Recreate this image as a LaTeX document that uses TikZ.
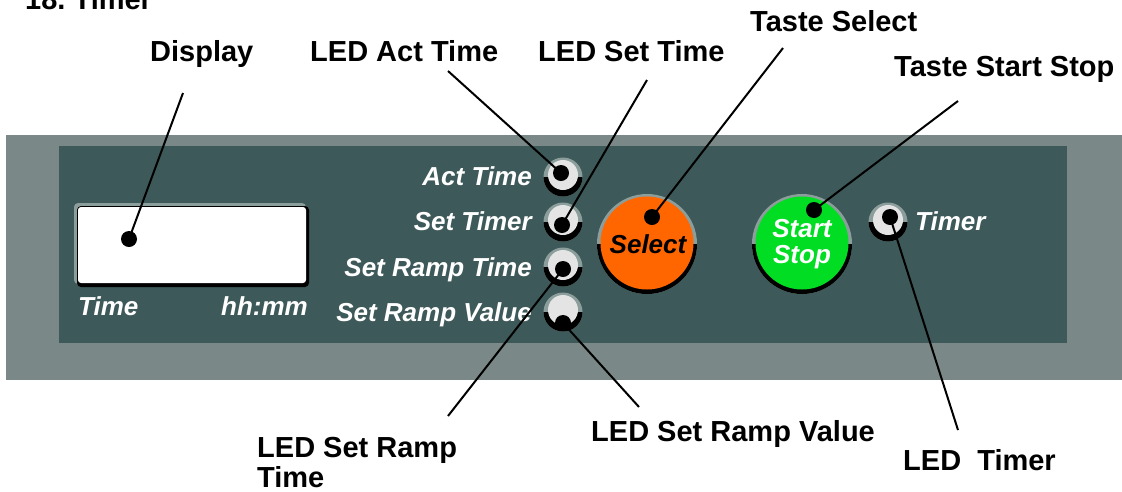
\documentclass[tikz,border=0pt]{standalone}
\usepackage{fontspec}
\setmainfont{Liberation Sans}
\frenchspacing
\definecolor{outerpanel}{RGB}{122,137,135}
\definecolor{innerpanel}{RGB}{62,89,89}
\definecolor{bevelgray}{RGB}{140,158,156}
\definecolor{ledlight}{RGB}{228,228,228}
\definecolor{btnorange}{RGB}{255,102,0}
\definecolor{btngreen}{RGB}{0,221,34}
\begin{document}
\begin{tikzpicture}[x=1pt,y=-1pt,
  callout/.style={font=\fontsize{29}{30}\selectfont\bfseries, inner sep=0pt, anchor=base west},
  panellabel/.style={font=\fontsize{26}{26}\selectfont\bfseries\itshape, text=white, inner sep=0pt},
  dotmark/.style={circle, fill=black, inner sep=0pt, minimum size=16pt},
  lead/.style={line width=2pt, black},
  pics/ledlamp/.style={code={
    \fill[bevelgray] (0,0) circle (19.5);
    \fill[black] (19.5,0) arc (0:180:19.5) -- cycle;
    \fill[ledlight] (0,-2) circle (15);
  }},
  pics/pushbutton/.style={code={
    \fill[bevelgray] (0,0) circle (50);
    \fill[black] (50,0) arc (0:180:50) -- cycle;
    \fill[#1] (0,-1) circle (46.5);
  }}]
\useasboundingbox (0,0) rectangle (1122,491);
\clip (0,0) rectangle (1122,491);
% panels
\fill[outerpanel] (6,135) rectangle (1122,380);
\fill[innerpanel] (59,146) rectangle (1067,343);
% display
\fill[bevelgray, rounded corners=4pt] (74,203) rectangle (306,284);
\fill[black, rounded corners=4pt] (77,206) rectangle (309,287);
\fill[white, rounded corners=3pt] (78,207) rectangle (306,283);
% LEDs
\pic at (563,177) {ledlamp};
\pic at (563,222) {ledlamp};
\pic at (563,267) {ledlamp};
\pic at (563,312) {ledlamp};
\pic at (888,222) {ledlamp};
% buttons
\pic at (647,244) {pushbutton=btnorange};
\pic at (802,244) {pushbutton=btngreen};
% panel texts
\node[panellabel, anchor=base east] (tAct) at (532,185) {Act Time};
\node[panellabel, anchor=base east] (tSetTimer) at (532,230) {Set Timer};
\node[panellabel, anchor=base east] (tRampTime) at (532,276) {Set Ramp Time};
\node[panellabel, anchor=base east] (tRampValue) at (532,321) {Set Ramp Value};
\node[panellabel, anchor=base west] (tTimer) at (915,230) {Timer};
\node[panellabel, anchor=base west] (tTime) at (78,315) {Time};
\node[panellabel, anchor=base east] (tHhmm) at (308,315) {hh:mm};
\node[panellabel, text=black, anchor=base] (tSelect) at (648,253) {Select};
\node[panellabel, align=center] (tStartStop) at (802,244) {Start\\Stop};
% callout labels
\node[callout] (lTitle) at (25,9) {18. Timer};
\node[callout] (lDisplay) at (150,61) {Display};
\node[callout] (lAct) at (310,61) {LED Act Time};
\node[callout] (lSetTime) at (538,61) {LED Set Time};
\node[callout] (lSelect) at (750,31) {Taste Select};
\node[callout] (lStart) at (894,76) {Taste Start Stop};
\node[callout, anchor=north west, align=left] (lRampTime) at (257,437) {LED Set Ramp\\Time};
\node[callout] (lRampValue) at (591,441) {LED Set Ramp Value};
\node[callout] (lTimer) at (903,470) {LED\ \ Timer};
% dots
\node[dotmark] (dDisplay) at (129,239) {};
\node[dotmark] (dAct) at (561,173) {};
\node[dotmark] (dSetTime) at (562,225) {};
\node[dotmark] (dRampTime) at (563,269) {};
\node[dotmark] (dRampValue) at (563,323) {};
\node[dotmark] (dSelect) at (652,217) {};
\node[dotmark] (dStart) at (814,210) {};
\node[dotmark] (dTimer) at (890,217) {};
% free ends near labels
\coordinate (eDisplay) at (183,93);
\coordinate (eAct) at (448,71);
\coordinate (eSetTime) at (647,80);
\coordinate (eSelect) at (783,48);
\coordinate (eStart) at (958,101);
\coordinate (eRampTime) at (448,416);
\coordinate (eRampValue) at (639,407);
\coordinate (eTimer) at (958,430);
% leader lines
\draw[lead] (eDisplay) -- (dDisplay.center);
\draw[lead] (eAct) -- (dAct.center);
\draw[lead] (eSetTime) -- (dSetTime.center);
\draw[lead] (eSelect) -- (dSelect.center);
\draw[lead] (eStart) -- (dStart.center);
\draw[lead] (eRampTime) -- (dRampTime.center);
\draw[lead] (eRampValue) -- (dRampValue.center);
\draw[lead] (eTimer) -- (dTimer.center);
\end{tikzpicture}
\end{document}
